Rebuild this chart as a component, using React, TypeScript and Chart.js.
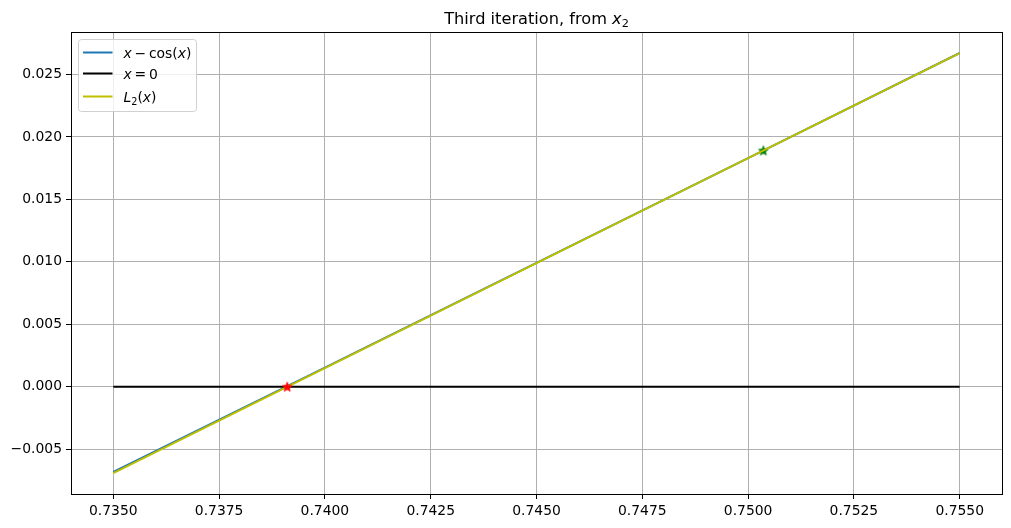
import React, { useEffect, useRef } from 'react';
import { Chart, registerables } from 'chart.js';

Chart.register(...registerables);

// x - cos(x), sampled
const curveX = [0.735, 0.74, 0.745, 0.75, 0.755];
const curveY = [-0.00683, 0.00153, 0.00991, 0.01831, 0.02673];
// x = 0 line
const zeroX = [0.735, 0.755];
const zeroY = [0, 0];
// tangent L2(x)
const tangentX = [0.735, 0.755];
const tangentY = [-0.00692, 0.02672];
// markers
const rootX = [0.73911];
const rootY = [0];
const startX = [0.75036];
const startY = [0.01892];

const xTicks = [0.735, 0.7375, 0.74, 0.7425, 0.745, 0.7475, 0.75, 0.7525, 0.755];
const yTicks = [-0.005, 0, 0.005, 0.01, 0.015, 0.02, 0.025];

const FONT = '"DejaVu Sans", "Liberation Sans", sans-serif';

function pts(xs: number[], ys: number[]) {
  return xs.map((x, i) => ({ x, y: ys[i] }));
}

function makeStar(color: string, size: number): HTMLCanvasElement {
  const c = document.createElement('canvas');
  const s = Math.ceil(size) + 2;
  c.width = s;
  c.height = s;
  const ctx = c.getContext('2d')!;
  const cx = s / 2;
  const cy = s / 2;
  const R = size / 2;
  const r = R * 0.45;
  ctx.beginPath();
  for (let i = 0; i < 10; i++) {
    const a = -Math.PI / 2 + (i * Math.PI) / 5;
    const rad = i % 2 === 0 ? R : r;
    const px = cx + rad * Math.cos(a);
    const py = cy + rad * Math.sin(a) + R * 0.1;
    if (i === 0) ctx.moveTo(px, py);
    else ctx.lineTo(px, py);
  }
  ctx.closePath();
  ctx.fillStyle = color;
  ctx.fill();
  ctx.strokeStyle = color;
  ctx.lineWidth = 0.8;
  ctx.stroke();
  return c;
}

type Seg = { t: string; italic?: boolean; sub?: boolean };

function drawRich(
  ctx: CanvasRenderingContext2D,
  segs: Seg[],
  x: number,
  y: number,
  size: number,
  align: 'left' | 'center'
) {
  const fontFor = (s: Seg) =>
    `${s.italic ? 'italic ' : ''}${s.sub ? size * 0.7 : size}px ${FONT}`;
  const widths = segs.map((s) => {
    ctx.font = fontFor(s);
    return ctx.measureText(s.t).width;
  });
  const total = widths.reduce((a, b) => a + b, 0);
  let cx = align === 'center' ? x - total / 2 : x;
  ctx.textBaseline = 'alphabetic';
  ctx.textAlign = 'left';
  ctx.fillStyle = '#000';
  segs.forEach((s, i) => {
    ctx.font = fontFor(s);
    ctx.fillText(s.t, cx, y + (s.sub ? size * 0.22 : 0));
    cx += widths[i];
  });
}

const frameAndLegend = {
  id: 'frameAndLegend',
  afterDraw(chart: any) {
    const ctx: CanvasRenderingContext2D = chart.ctx;
    const a = chart.chartArea;
    ctx.save();
    // spines
    ctx.strokeStyle = '#000';
    ctx.lineWidth = 1;
    ctx.strokeRect(Math.round(a.left) + 0.5, Math.round(a.top) + 0.5, Math.round(a.right - a.left), Math.round(a.bottom - a.top));

    // title
    drawRich(
      ctx,
      [{ t: 'Third iteration, from ' }, { t: 'x', italic: true }, { t: '2', sub: true }],
      (a.left + a.right) / 2,
      23.5,
      16.2,
      'center'
    );

    // legend box
    const bx = a.left + 7.5;
    const by = a.top + 7.5;
    const bw = 118;
    const bh = 72;
    ctx.beginPath();
    (ctx as any).roundRect(bx, by, bw, bh, 3);
    ctx.fillStyle = 'rgba(255,255,255,0.8)';
    ctx.fill();
    ctx.strokeStyle = '#d0d0d0';
    ctx.lineWidth = 1;
    ctx.stroke();

    const items: { color: string; y: number; segs: Seg[] }[] = [
      {
        color: '#1f77b4',
        y: 52.5,
        segs: [
          { t: 'x', italic: true },
          { t: '\u2009\u2212\u2009cos(' },
          { t: 'x', italic: true },
          { t: ')' },
        ],
      },
      {
        color: '#000000',
        y: 73.5,
        segs: [{ t: 'x', italic: true }, { t: '\u2009=\u20090' }],
      },
      {
        color: '#bfbf00',
        y: 96.5,
        segs: [
          { t: 'L', italic: true },
          { t: '2', sub: true },
          { t: '(' },
          { t: 'x', italic: true },
          { t: ')' },
        ],
      },
    ];
    items.forEach((it) => {
      ctx.beginPath();
      ctx.strokeStyle = it.color;
      ctx.lineWidth = 2;
      ctx.moveTo(83, it.y);
      ctx.lineTo(112.5, it.y);
      ctx.stroke();
      drawRich(ctx, it.segs, 123.5, it.y + 5, 13.9, 'left');
    });
    ctx.restore();
  },
};

export default function App() {
  const ref = useRef<HTMLCanvasElement | null>(null);

  useEffect(() => {
    document.body.style.margin = '0';
    const canvas = ref.current!;
    const redStar = makeStar('#ff0000', 10);
    const greenStar = makeStar('#008000', 10);
    const tickFont = { family: FONT, size: 13.9 };

    const chart = new Chart(canvas, {
      type: 'scatter',
      data: {
        datasets: [
          {
            label: 'x - cos(x)',
            data: pts(curveX, curveY),
            showLine: true,
            borderColor: '#1f77b4',
            borderWidth: 2,
            pointRadius: 0,
            order: 5,
          },
          {
            label: 'x = 0',
            data: pts(zeroX, zeroY),
            showLine: true,
            borderColor: '#000000',
            borderWidth: 2,
            pointRadius: 0,
            order: 4,
          },
          {
            label: 'x2',
            data: pts(startX, startY),
            pointStyle: greenStar,
            pointRadius: 5,
            order: 3,
          },
          {
            label: 'L2(x)',
            data: pts(tangentX, tangentY),
            showLine: true,
            borderColor: '#bfbf00',
            borderWidth: 2,
            pointRadius: 0,
            order: 2,
          },
          {
            label: 'x3',
            data: pts(rootX, rootY),
            pointStyle: redStar,
            pointRadius: 5,
            order: 1,
          },
        ] as any,
      },
      options: {
        animation: false,
        responsive: true,
        maintainAspectRatio: false,
        layout: { padding: { top: 32, right: 9, left: 0, bottom: 0 } },
        plugins: {
          legend: { display: false },
          title: { display: false },
          tooltip: { enabled: false },
        },
        scales: {
          x: {
            type: 'linear',
            min: 0.734,
            max: 0.756,
            afterBuildTicks: (axis: any) => {
              axis.ticks = xTicks.map((v) => ({ value: v }));
            },
            afterFit: (axis: any) => {
              axis.height = 34;
            },
            ticks: {
              font: tickFont,
              color: '#000',
              padding: 4,
              maxRotation: 0,
              autoSkip: false,
              callback: (v: any) => Number(v).toFixed(4),
            },
            grid: {
              color: '#b0b0b0',
              lineWidth: 1,
              tickLength: 5,
              tickColor: '#000',
              tickWidth: 1,
            },
            border: { display: true, color: '#000', width: 1 },
          },
          y: {
            type: 'linear',
            min: -0.0086,
            max: 0.028411,
            afterBuildTicks: (axis: any) => {
              axis.ticks = yTicks.map((v) => ({ value: v }));
            },
            afterFit: (axis: any) => {
              axis.width = 71;
            },
            ticks: {
              font: tickFont,
              color: '#000',
              padding: 4,
              autoSkip: false,
              callback: (v: any) => Number(v).toFixed(3).replace('-', '\u2212'),
            },
            grid: {
              color: '#b0b0b0',
              lineWidth: 1,
              tickLength: 5,
              tickColor: '#000',
              tickWidth: 1,
            },
            border: { display: true, color: '#000', width: 1 },
          },
        },
      } as any,
      plugins: [frameAndLegend],
    });
    return () => chart.destroy();
  }, []);

  return (
    <div style={{ width: 1011, height: 528, position: 'relative', background: '#fff' }}>
      <canvas ref={ref} />
    </div>
  );
}
